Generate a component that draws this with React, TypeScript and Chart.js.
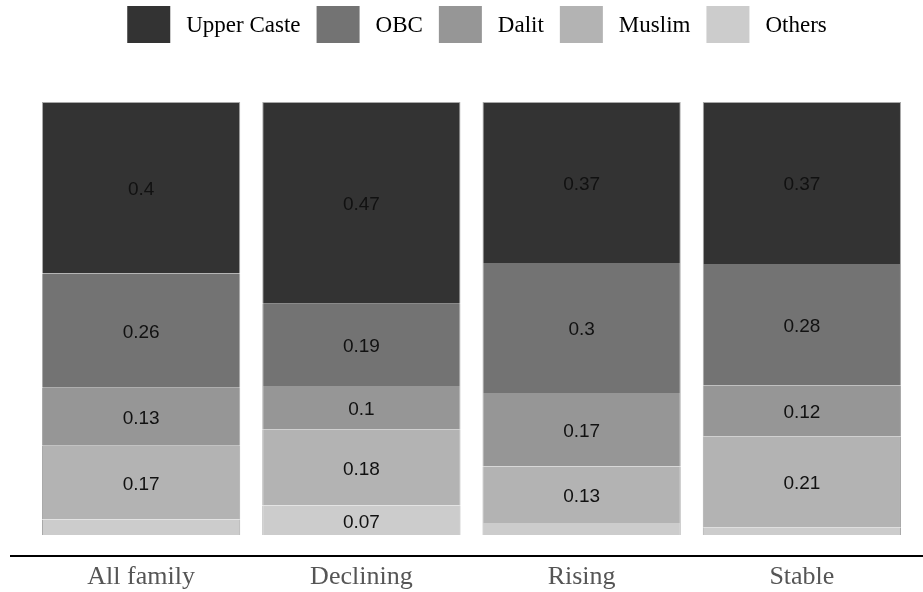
import React, { useEffect, useRef } from "react";
import { Chart, registerables } from "chart.js";

Chart.register(...registerables);

const categories = ["All family", "Declining", "Rising", "Stable"];
const upperCaste = [0.396, 0.466, 0.372, 0.374];
const obc = [0.264, 0.19, 0.3, 0.28];
const dalit = [0.134, 0.1, 0.17, 0.118];
const muslim = [0.17, 0.176, 0.13, 0.21];
const others = [0.036, 0.068, 0.028, 0.018];

const seriesNames = ["Upper Caste", "OBC", "Dalit", "Muslim", "Others"];
const seriesColors = ["#333333", "#737373", "#969696", "#b3b3b3", "#cccccc"];

const SERIF = '"Liberation Serif", "Times New Roman", serif';
const SANS = '"Liberation Sans", Arial, sans-serif';

const legendPlugin = {
  id: "customLegend",
  afterDraw(chart: any) {
    const ctx = chart.ctx;
    const boxW = 43;
    const boxH = 37;
    const gap = 16;
    const top = 6;
    ctx.save();
    ctx.font = "23px " + SERIF;
    ctx.textBaseline = "middle";
    const items = [...chart.data.datasets].reverse();
    let total = 0;
    items.forEach((ds: any, i: number) => {
      total += boxW + gap + ctx.measureText(ds.label).width + (i < items.length - 1 ? gap : 0);
    });
    let x = 477 - total / 2;
    items.forEach((ds: any) => {
      ctx.fillStyle = ds.backgroundColor;
      ctx.fillRect(x, top, boxW, boxH);
      x += boxW + gap;
      ctx.fillStyle = "#000";
      ctx.fillText(ds.label, x, top + boxH / 2 + 1);
      x += ctx.measureText(ds.label).width + gap;
    });
    ctx.restore();
  },
};

const valueLabelPlugin = {
  id: "valueLabels",
  afterDatasetsDraw(chart: any) {
    const ctx = chart.ctx;
    ctx.save();
    ctx.font = "19px " + SANS;
    ctx.fillStyle = "#111";
    ctx.textAlign = "center";
    ctx.textBaseline = "middle";
    chart.data.datasets.forEach((ds: any, di: number) => {
      const meta = chart.getDatasetMeta(di);
      meta.data.forEach((bar: any, i: number) => {
        const v = ds.data[i];
        if (v < 0.05) return;
        const txt = String(Number(v.toFixed(2)));
        ctx.fillText(txt, bar.x, (bar.y + bar.base) / 2 + 2);
      });
    });
    ctx.restore();
  },
};

const axisLinePlugin = {
  id: "axisLine",
  afterDraw(chart: any) {
    const ctx = chart.ctx;
    const y = chart.chartArea.bottom + 21;
    ctx.save();
    ctx.strokeStyle = "#000";
    ctx.lineWidth = 2;
    ctx.beginPath();
    ctx.moveTo(10, y);
    ctx.lineTo(chart.width, y);
    ctx.stroke();
    ctx.restore();
  },
};

export default function App() {
  const ref = useRef<HTMLCanvasElement>(null);
  useEffect(() => {
    document.body.style.margin = "0";
    const seriesData = [upperCaste, obc, dalit, muslim, others];
    const datasets = seriesNames
      .map((name, i) => ({
        label: name,
        data: seriesData[i],
        backgroundColor: seriesColors[i],
        borderColor: "#a8a8a8",
        borderWidth: { left: 1, right: 1, top: i === 0 ? 1 : 0, bottom: 0 },
        borderSkipped: false,
        categoryPercentage: 0.9,
        barPercentage: 1,
      }))
      .reverse();
    const chart = new Chart(ref.current!, {
      type: "bar",
      data: { labels: categories, datasets },
      plugins: [legendPlugin, valueLabelPlugin, axisLinePlugin],
      options: {
        animation: false,
        responsive: false,
        layout: { padding: { top: 102, left: 31, right: 11, bottom: 0 } },
        plugins: { legend: { display: false }, tooltip: { enabled: false } },
        scales: {
          x: {
            stacked: true,
            grid: { display: false, drawTicks: false },
            border: { display: false },
            ticks: { color: "#555", font: { family: SERIF, size: 26 }, padding: 27 },
            afterFit(scale: any) {
              scale.height = 57;
            },
          },
          y: { stacked: true, display: false, min: 0, max: 1 },
        },
      },
    });
    return () => chart.destroy();
  }, []);
  return (
    <div style={{ width: 923, height: 592 }}>
      <canvas ref={ref} width={923} height={592} />
    </div>
  );
}
